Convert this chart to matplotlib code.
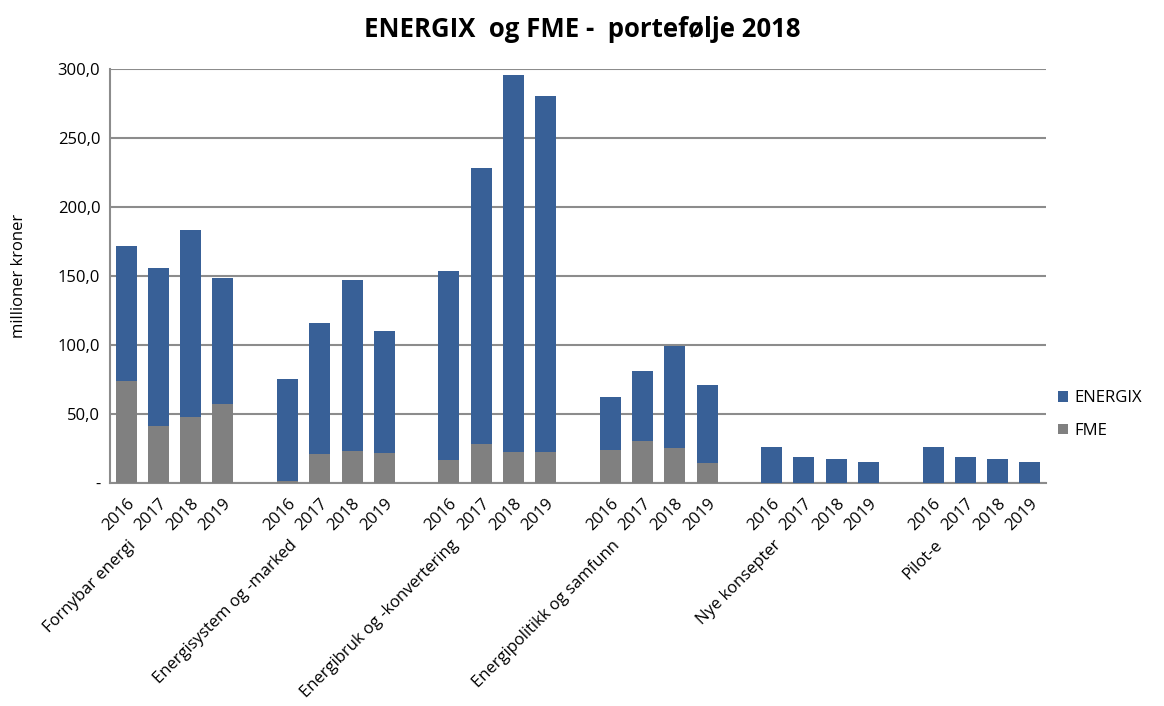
import matplotlib.pyplot as plt
import numpy as np

plt.rcParams['font.family'] = ['Open Sans', 'DejaVu Sans']

groups = ["Fornybar energi", "Energisystem og -marked", "Energibruk og -konvertering",
          "Energipolitikk og samfunn", "Nye konsepter", "Pilot-e"]
years = ["2016", "2017", "2018", "2019"]

# FME (bottom) and ENERGIX (stacked on top), millioner kroner
fme = [74.2, 41.1, 47.8, 57.5,
       1.2, 20.8, 22.9, 21.5,
       16.9, 28.3, 22.2, 22.2,
       24.2, 30.2, 25.4, 14.5,
       0.0, 0.0, 0.0, 0.0,
       0.0, 0.0, 0.0, 0.0]
energix = [97.3, 114.7, 135.8, 91.1,
           74.2, 95.1, 124.2, 88.4,
           137.0, 200.0, 273.7, 258.0,
           37.9, 50.7, 74.1, 56.3,
           26.1, 18.8, 17.4, 15.2,
           26.1, 18.8, 17.4, 15.2]

blue = '#386097'
grey = '#808080'

# one empty slot between groups
pos = np.array([g * 5 + j for g in range(len(groups)) for j in range(len(years))])
labels = [y for g in groups for y in years]

fig = plt.figure(figsize=(11.64, 7.06), dpi=100)
ax = fig.add_axes([110/1164, 1 - 483/706, 936/1164, 414/706])

ax.bar(pos, fme, width=0.65, color=grey, label='FME', zorder=3)
ax.bar(pos, energix, width=0.65, bottom=fme, color=blue, label='ENERGIX', zorder=3)

ax.set_xlim(-0.5, 28.5)
ax.set_ylim(0, 300)
yt = np.arange(0, 301, 50)
ax.set_yticks(yt)
ax.set_yticklabels(['-'] + ['{:.1f}'.format(v).replace('.', ',') for v in yt[1:]], fontsize=12)
ax.yaxis.grid(True, color='#8c8c8c', linewidth=1.5, zorder=0)
ax.tick_params(axis='y', length=0, pad=7)

ax.set_xticks(pos)
ax.set_xticklabels(labels, rotation=45, ha='right', rotation_mode='anchor', fontsize=12)
ax.tick_params(axis='x', length=0, pad=9)

for s in ['top', 'right']:
    ax.spines[s].set_visible(False)
for s in ['left', 'bottom']:
    ax.spines[s].set_color('#8c8c8c')
    ax.spines[s].set_linewidth(1.5)

for g, name in enumerate(groups):
    ax.annotate(name, xy=(g * 5, 0), xycoords=('data', 'axes fraction'),
                xytext=(1, -39), textcoords='offset points',
                rotation=45, ha='right', va='top', rotation_mode='anchor', fontsize=12)

ax.set_ylabel('millioner kroner', fontsize=12, labelpad=22)

h, l = ax.get_legend_handles_labels()
ax.legend(h[::-1], l[::-1], loc='center left', bbox_to_anchor=(0.997, 0.165),
          frameon=False, fontsize=12, handlelength=0.6, handleheight=0.6,
          labelspacing=1.0, handletextpad=0.4)

fig.suptitle('ENERGIX  og FME -  portefølje 2018', fontsize=18.5, fontweight='bold', y=0.978)

fig.savefig('out.png', dpi=100)
